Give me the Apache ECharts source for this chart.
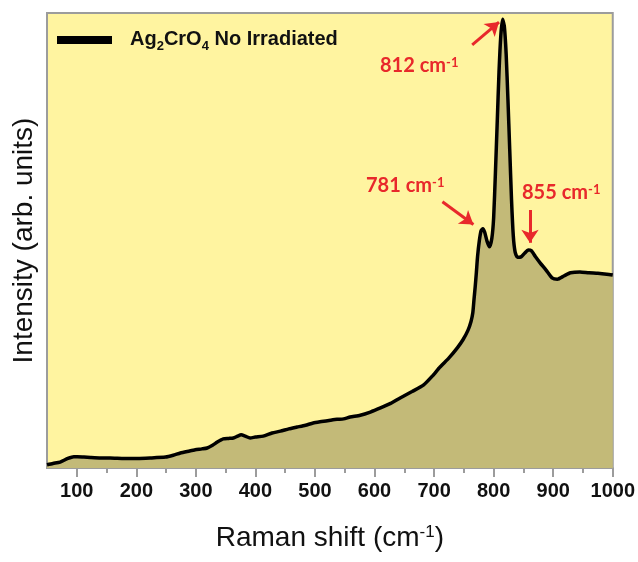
<!DOCTYPE html>
<html>
<head>
<meta charset="UTF-8">
<title>Raman Ag2CrO4</title>
<script src="https://cdn.jsdelivr.net/npm/echarts@6/dist/echarts.min.js"></script>
<style>
    html,body
    {
        height:100%;
        margin:0;
        width:100%;
    }
</style>
</head>
<body>
<div id="chart" style="width:638px;height:562px"></div>
<script>
// spectrum
var ramanShift = [50,60,72,85,95,101,112,123,140,156,180,202,223,249,262,274,288,299,310,319,
    328,336,346,355,363,370,376,383,391,400,413,428,442,456,470,484,497,511,526,537,
    548,559,576,593,610,627,643,663,682,697,710,725,739,749,757,762,765,767,769,771,
    773,776,779,782,785,789,793,797,800,803,806,809,812,815,818,821,824,827,830,833,
    836,840,846,852,858,863,870,878,888,898,907,918,929,945,960,975,990,1000];
var intensity = [0.7,1.0,1.3,2.1,2.5,2.5,2.4,2.3,2.2,2.2,2.1,2.1,2.2,2.4,2.8,3.3,3.7,4.0,4.2,4.4,
    5.0,5.7,6.4,6.5,6.6,7.0,7.3,7.0,6.6,6.8,7.0,7.7,8.1,8.6,9.0,9.4,9.9,10.2,10.5,10.7,
    10.8,11.2,11.6,12.3,13.2,14.2,15.4,16.8,18.2,20.2,22.2,24.2,26.4,28.3,30.3,32.2,34.1,37.0,39.8,43.0,
    46.5,50.0,52.2,52.6,51.8,49.8,48.6,50.5,55,65,76,87,95,98.6,97,91,81,70,59,51,
    47.5,46.3,46.4,47.2,47.9,47.8,46.5,45.1,43.5,41.8,41.5,42.2,42.9,43.1,42.9,42.8,42.6,42.4];
var tickValues = [100,200,300,400,500,600,700,800,900,1000];
var minorTickValues = [150,250,350,450,550,650,750,850,950];
var peakLabels = ['812','781','855'];

var points = ramanShift.map(function(x, i){ return [x, intensity[i]]; });

var red = '#e8282b';
var grey = '#9c9c9c';

function peakText(v){
    return '{n|' + v + ' cm}{s|-1}';
}
var peakRich = {
    n: { fontSize: 20, fontWeight: 'bold', fontFamily: 'Lato', fill: red, lineHeight: 24, verticalAlign: 'top' },
    s: { fontSize: 13, fontWeight: 'bold', fontFamily: 'Lato', fill: red, lineHeight: 13, verticalAlign: 'top' }
};

var chart = echarts.init(document.getElementById('chart'));
chart.setOption({
    animation: false,
    grid: {
        left: 47, right: 24, top: 13, bottom: 94,
        show: true,
        backgroundColor: '#fff4a0',
        borderColor: grey,
        borderWidth: 2
    },
    legend: {
        left: 57, top: 29,
        padding: 0,
        icon: 'rect',
        itemWidth: 55,
        itemHeight: 8,
        data: ['Ag2CrO4 No Irradiated'],
        formatter: function(){
            return '{p|}{n|Ag}{s|2}{n|CrO}{s|4}{n| No Irradiated}';
        },
        textStyle: {
            rich: {
                p: { width: 13 },
                n: { fontSize: 20, fontWeight: 'bold', fontFamily: 'Arial', color: '#111', lineHeight: 22, verticalAlign: 'top' },
                s: { fontSize: 13, fontWeight: 'bold', fontFamily: 'Arial', color: '#111', lineHeight: 13, padding: [11,0,0,0], verticalAlign: 'top' }
            }
        }
    },
    xAxis: [{
        type: 'value',
        min: 50, max: 1000,
        name: '{n|Raman shift (cm}{s|-1}{n|)}',
        nameLocation: 'middle',
        nameGap: 56,
        nameTextStyle: {
            rich: {
                n: { fontSize: 28, fontFamily: 'Arial', color: '#111', lineHeight: 32, verticalAlign: 'top' },
                s: { fontSize: 17, fontFamily: 'Arial', color: '#111', lineHeight: 17, verticalAlign: 'top' }
            }
        },
        axisLine: { lineStyle: { color: grey, width: 2 } },
        axisTick: { customValues: tickValues, length: 9, lineStyle: { color: grey, width: 2 } },
        axisLabel: {
            customValues: tickValues,
            formatter: function(v){ return String(v); },
            fontSize: 20, fontWeight: 'bold', fontFamily: 'Arial', color: '#111', margin: 13
        },
        splitLine: { show: false }
    }, {
        type: 'value',
        min: 50, max: 1000,
        position: 'bottom',
        axisLine: { show: false },
        axisTick: { customValues: minorTickValues, length: 5, lineStyle: { color: grey, width: 2 } },
        axisLabel: { show: false },
        splitLine: { show: false }
    }],
    yAxis: {
        type: 'value',
        min: 0, max: 100,
        name: 'Intensity (arb. units)',
        nameLocation: 'middle',
        nameGap: 9,
        nameTextStyle: { fontSize: 28, fontFamily: 'Arial', color: '#111' },
        axisLine: { show: true, lineStyle: { color: grey, width: 2 } },
        axisTick: { show: false },
        axisLabel: { show: false },
        splitLine: { show: false }
    },
    series: [{
        name: 'Ag2CrO4 No Irradiated',
        type: 'line',
        data: points,
        smooth: 0.2,
        showSymbol: false,
        itemStyle: { color: '#000' },
        lineStyle: { color: '#000', width: 3.5 },
        areaStyle: { color: '#c3ba78', opacity: 1 },
        markLine: {
            silent: true,
            symbol: ['none', 'arrow'],
            symbolSize: 13,
            label: { show: false },
            lineStyle: { color: red, width: 3, type: 'solid' },
            data: [
                [{ coord: [764, 93] }, { coord: [809, 98] }],
                [{ coord: [714, 58.5] }, { coord: [766, 53.5] }],
                [{ coord: [861, 56.7] }, { coord: [861, 49.5] }]
            ]
        }
    }],
    graphic: [
        { type: 'text', left: 380, top: 56, style: { text: peakText(peakLabels[0]), rich: peakRich } },
        { type: 'text', left: 366, top: 176, style: { text: peakText(peakLabels[1]), rich: peakRich } },
        { type: 'text', left: 522, top: 183, style: { text: peakText(peakLabels[2]), rich: peakRich } }
    ]
});
</script>
</body>
</html>
